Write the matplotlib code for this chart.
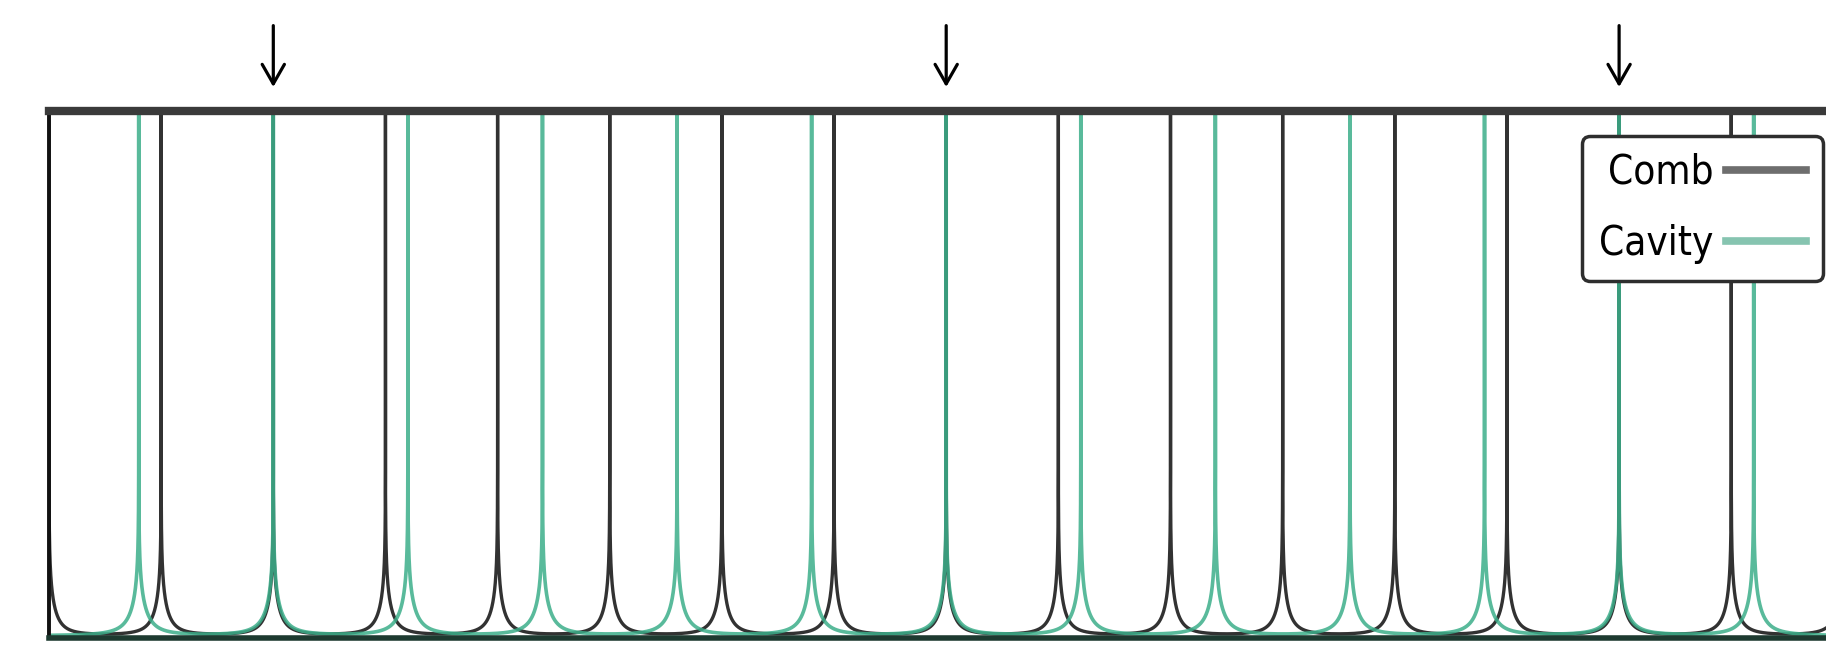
import numpy as np
import matplotlib
matplotlib.use("Agg")
from matplotlib import pyplot as plt
from matplotlib.lines import Line2D

# comb teeth and cavity modes, in units of the comb spacing
comb_lines = [0, 1, 2, 3, 4, 5, 6, 7, 8, 9, 10, 11, 12, 13, 14, 15, 16]
cavity_modes = [0.8, 2.0, 3.2, 4.4, 5.6, 6.8, 8.0, 9.2, 10.4, 11.6, 12.8, 14.0, 15.2]
coincident = [2, 8, 14]
comb_width = 1.4e-9
cavity_width = 1.65e-9
floor = 1.15e-16

legend_labels = ["Comb", "Cavity"]

# fine grid, with the line centres put in exactly so every peak hits the top
x = np.unique(np.concatenate([np.linspace(0, 16, 400001), comb_lines, cavity_modes]))

def spectrum(centres, g):
    y = np.full_like(x, floor)
    for c in centres:
        y += 1.0 / (1.0 + ((x - c) / g) ** 2)
    return y

comb_y = spectrum(comb_lines, comb_width)
cav_y = spectrum(cavity_modes, cavity_width)

W, H = 1826, 645
fig = plt.figure(figsize=(W / 100, H / 100), dpi=100)
left, top, bottom = 49, 111, 638
ax = fig.add_axes([left / W, 1 - bottom / H, 1 - left / W, (bottom - top) / H])

ax.plot(x, comb_y, color="#1c1c1c", lw=2.4, alpha=0.9)
ax.plot(x, cav_y, color="#3cae8a", lw=2.6, alpha=0.85)

ax.set_yscale("log")
ax.set_xlim(0, (W - left) / 112.15)
ax.set_ylim(1e-16, 0.9)
ax.set_xticks([])
ax.set_yticks([])
ax.minorticks_off()

ax.spines["right"].set_visible(False)
ax.spines["top"].set_color("#3a3a3a")
ax.spines["top"].set_linewidth(6)
ax.spines["left"].set_color("#111111")
ax.spines["left"].set_linewidth(2.8)
ax.spines["bottom"].set_color("#1d3a30")
ax.spines["bottom"].set_linewidth(4)

for c in coincident:
    ax.annotate("", xy=(c, 1.0455), xytext=(c, 1.162),
                xycoords=("data", "axes fraction"),
                textcoords=("data", "axes fraction"),
                annotation_clip=False,
                arrowprops=dict(arrowstyle="->,head_length=0.7,head_width=0.4",
                                mutation_scale=20, color="black", lw=2.3,
                                shrinkA=0, shrinkB=0))

handles = [Line2D([], [], color="#6e6e6e", lw=5.5),
           Line2D([], [], color="#86c4b0", lw=5.5)]
leg = ax.legend(handles, legend_labels, loc="upper right", markerfirst=False,
                bbox_to_anchor=(1823 / W, 1 - 136 / H), bbox_transform=fig.transFigure,
                prop={"family": ["DejaVu Sans"], "size": 29, "stretch": "condensed"},
                handlelength=2.0, handletextpad=0.3, borderpad=0.42,
                labelspacing=0.78, borderaxespad=0, fancybox=True, framealpha=1)
leg.get_frame().set_edgecolor("#2e2e2e")
leg.get_frame().set_linewidth(2.5)

fig.savefig("out.png", dpi=100)
